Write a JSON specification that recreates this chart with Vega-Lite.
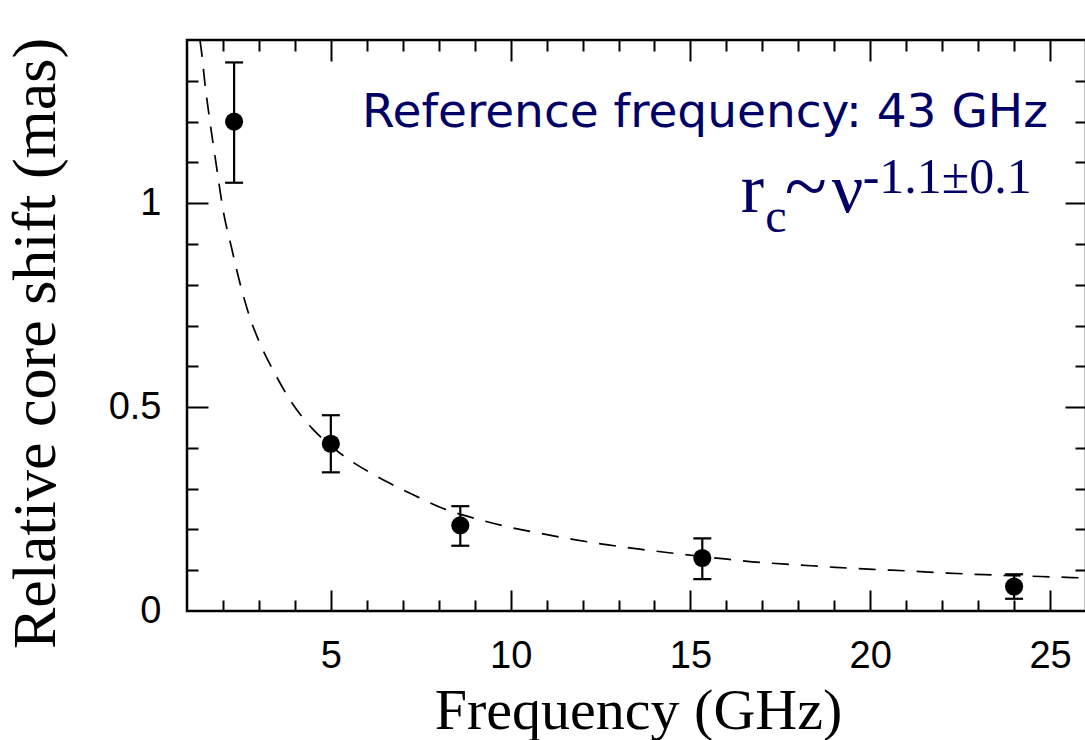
{
  "$schema": "https://vega.github.io/schema/vega-lite/v6.json",
  "width": 899,
  "height": 571,
  "autosize": "none",
  "padding": {"left": 187, "top": 40, "right": 0, "bottom": 129},
  "background": "white",
  "config": {
    "view": {"stroke": "black", "strokeWidth": 2.5},
    "axis": {"grid": false}
  },
  "datasets": {
    "points": [
      {"nu": 2.31, "shift": 1.2, "lo": 1.05, "hi": 1.345},
      {"nu": 5.0, "shift": 0.41, "lo": 0.34, "hi": 0.48},
      {"nu": 8.6, "shift": 0.21, "lo": 0.16, "hi": 0.257},
      {"nu": 15.33, "shift": 0.13, "lo": 0.078, "hi": 0.178},
      {"nu": 24.0, "shift": 0.06, "lo": 0.03, "hi": 0.09}
    ],
    "curve": [
      {"nu": 1.36, "r": 1.4},
      {"nu": 1.42, "r": 1.36},
      {"nu": 1.49, "r": 1.3},
      {"nu": 1.63, "r": 1.205},
      {"nu": 1.82, "r": 1.09},
      {"nu": 2.0, "r": 0.985},
      {"nu": 2.24, "r": 0.89},
      {"nu": 2.47, "r": 0.805},
      {"nu": 2.74, "r": 0.722},
      {"nu": 3.07, "r": 0.648},
      {"nu": 3.44, "r": 0.583},
      {"nu": 3.86, "r": 0.518},
      {"nu": 4.5, "r": 0.446},
      {"nu": 5.0, "r": 0.405},
      {"nu": 5.52, "r": 0.37},
      {"nu": 6.08, "r": 0.34},
      {"nu": 6.64, "r": 0.313},
      {"nu": 7.38, "r": 0.281},
      {"nu": 8.02, "r": 0.255},
      {"nu": 9.13, "r": 0.224},
      {"nu": 9.79, "r": 0.209},
      {"nu": 10.84, "r": 0.19},
      {"nu": 11.77, "r": 0.175},
      {"nu": 12.71, "r": 0.162},
      {"nu": 13.64, "r": 0.151},
      {"nu": 14.58, "r": 0.141},
      {"nu": 16.03, "r": 0.127},
      {"nu": 16.96, "r": 0.119},
      {"nu": 18.0, "r": 0.113},
      {"nu": 19.04, "r": 0.107},
      {"nu": 20.08, "r": 0.102},
      {"nu": 21.11, "r": 0.098},
      {"nu": 22.15, "r": 0.093},
      {"nu": 23.19, "r": 0.089},
      {"nu": 24.23, "r": 0.086},
      {"nu": 25.27, "r": 0.083},
      {"nu": 26.0, "r": 0.081}
    ],
    "one": [{}]
  },
  "resolve": {"axis": {"x": "independent", "y": "independent"}},
  "layer": [
    {
      "data": {"name": "curve"},
      "mark": {"type": "line", "color": "black", "strokeWidth": 1.7, "strokeDash": [17, 12], "interpolate": "monotone", "clip": true},
      "encoding": {
        "x": {
          "field": "nu", "type": "quantitative",
          "scale": {"domain": [1, 26], "nice": false, "zero": false},
          "axis": {
            "orient": "bottom", "values": [5, 10, 15, 20, 25], "ticks": false, "domain": false,
            "labelFont": "Liberation Sans", "labelFontSize": 38, "labelColor": "black",
            "labelPadding": 26, "labelBaseline": "top",
            "title": "Frequency (GHz)", "titleFont": "Liberation Serif", "titleFontSize": 58, "titleFontWeight": "normal",
            "titleColor": "black", "titleX": 451, "titleY": 117, "titleBaseline": "alphabetic", "titleAlign": "center"
          }
        },
        "y": {
          "field": "r", "type": "quantitative",
          "scale": {"domain": [0, 1.4], "nice": false, "zero": false},
          "axis": {
            "orient": "left", "values": [0, 0.5, 1], "format": "~g", "ticks": false, "domain": false,
            "labelFont": "Liberation Sans", "labelFontSize": 38, "labelColor": "black",
            "labelPadding": 26,
            "title": "Relative core shift (mas)", "titleFont": "Liberation Serif", "titleFontSize": 62, "titleFontWeight": "normal",
            "titleColor": "black", "titleX": -133, "titleY": 303, "titleAngle": -90, "titleBaseline": "alphabetic", "titleAlign": "center"
          }
        }
      }
    },
    {
      "data": {"name": "points"},
      "mark": {"type": "rule", "color": "black", "strokeWidth": 2.2, "opacity": 1},
      "encoding": {
        "x": {
          "field": "nu", "type": "quantitative",
          "scale": {"domain": [1, 26], "nice": false, "zero": false},
          "axis": {
            "orient": "bottom", "values": [2,3,4,5,6,7,8,9,10,11,12,13,14,15,16,17,18,19,20,21,22,23,24,25],
            "labels": false, "domain": false, "title": null, "tickColor": "black", "tickWidth": 2,
            "tickSize": {"condition": {"test": "datum.value % 5 === 0", "value": -21}, "value": -11}
          }
        },
        "y": {
          "field": "lo", "type": "quantitative",
          "scale": {"domain": [0, 1.4], "nice": false, "zero": false},
          "axis": {
            "orient": "left", "values": [0.1,0.2,0.3,0.4,0.5,0.6,0.7,0.8,0.9,1,1.1,1.2,1.3],
            "labels": false, "domain": false, "title": null, "tickColor": "black", "tickWidth": 2,
            "tickSize": {"condition": {"test": "datum.value === 0.5 || datum.value === 1", "value": -21}, "value": -11}
          }
        },
        "y2": {"field": "hi"}
      }
    },
    {
      "data": {"name": "points"},
      "transform": [{"fold": ["lo", "hi"], "as": ["end", "yv"]}],
      "mark": {"type": "tick", "orient": "horizontal", "color": "black", "size": 18, "thickness": 2.2, "opacity": 1},
      "encoding": {
        "x": {
          "field": "nu", "type": "quantitative",
          "scale": {"domain": [1, 26], "nice": false, "zero": false},
          "axis": {
            "orient": "top", "values": [2,3,4,5,6,7,8,9,10,11,12,13,14,15,16,17,18,19,20,21,22,23,24,25],
            "labels": false, "domain": false, "title": null, "tickColor": "black", "tickWidth": 2,
            "tickSize": {"condition": {"test": "datum.value % 5 === 0", "value": -21}, "value": -11}
          }
        },
        "y": {
          "field": "yv", "type": "quantitative",
          "scale": {"domain": [0, 1.4], "nice": false, "zero": false},
          "axis": {
            "orient": "right", "values": [0.1,0.2,0.3,0.4,0.5,0.6,0.7,0.8,0.9,1,1.1,1.2,1.3],
            "labels": false, "domain": false, "title": null, "tickColor": "black", "tickWidth": 2,
            "tickSize": {"condition": {"test": "datum.value === 0.5 || datum.value === 1", "value": -21}, "value": -11}
          }
        }
      }
    },
    {
      "data": {"name": "points"},
      "mark": {"type": "point", "shape": "circle", "filled": true, "color": "black", "size": 330, "opacity": 1},
      "encoding": {
        "x": {"field": "nu", "type": "quantitative", "scale": {"domain": [1, 26], "nice": false, "zero": false}, "axis": null},
        "y": {"field": "shift", "type": "quantitative", "scale": {"domain": [0, 1.4], "nice": false, "zero": false}, "axis": null}
      }
    },
    {
      "data": {"name": "one"},
      "mark": {"type": "text", "text": "Reference frequency: 43 GHz", "font": "DejaVu Sans", "fontSize": 47, "color": "#000066", "align": "right", "baseline": "alphabetic"},
      "encoding": {
        "x": {"datum": 24.94, "type": "quantitative", "scale": {"domain": [1, 26], "nice": false, "zero": false}, "axis": null},
        "y": {"datum": 1.186, "type": "quantitative", "scale": {"domain": [0, 1.4], "nice": false, "zero": false}, "axis": null}
      }
    },
    {
      "data": {"name": "one"},
      "mark": {"type": "text", "text": "r", "font": "Liberation Serif", "fontSize": 70, "color": "#000066", "align": "left", "baseline": "alphabetic"},
      "encoding": {
        "x": {"datum": 16.4, "type": "quantitative", "scale": {"domain": [1, 26], "nice": false, "zero": false}, "axis": null},
        "y": {"datum": 0.978, "type": "quantitative", "scale": {"domain": [0, 1.4], "nice": false, "zero": false}, "axis": null}
      }
    },
    {
      "data": {"name": "one"},
      "mark": {"type": "text", "text": "c", "font": "Liberation Serif", "fontSize": 48, "color": "#000066", "align": "left", "baseline": "alphabetic"},
      "encoding": {
        "x": {"datum": 17.08, "type": "quantitative", "scale": {"domain": [1, 26], "nice": false, "zero": false}, "axis": null},
        "y": {"datum": 0.929, "type": "quantitative", "scale": {"domain": [0, 1.4], "nice": false, "zero": false}, "axis": null}
      }
    },
    {
      "data": {"name": "one"},
      "mark": {"type": "text", "text": "~", "font": "Liberation Serif", "fontSize": 78, "color": "#000066", "align": "left", "baseline": "alphabetic"},
      "encoding": {
        "x": {"datum": 17.62, "type": "quantitative", "scale": {"domain": [1, 26], "nice": false, "zero": false}, "axis": null},
        "y": {"datum": 0.978, "type": "quantitative", "scale": {"domain": [0, 1.4], "nice": false, "zero": false}, "axis": null}
      }
    },
    {
      "data": {"name": "one"},
      "mark": {"type": "text", "text": "ν", "font": "Liberation Serif", "fontSize": 70, "color": "#000066", "align": "left", "baseline": "alphabetic"},
      "encoding": {
        "x": {"datum": 18.93, "type": "quantitative", "scale": {"domain": [1, 26], "nice": false, "zero": false}, "axis": null},
        "y": {"datum": 0.978, "type": "quantitative", "scale": {"domain": [0, 1.4], "nice": false, "zero": false}, "axis": null}
      }
    },
    {
      "data": {"name": "one"},
      "mark": {"type": "text", "text": "-1.1±0.1", "font": "Liberation Serif", "fontSize": 50, "color": "#000066", "align": "left", "baseline": "alphabetic"},
      "encoding": {
        "x": {"datum": 19.79, "type": "quantitative", "scale": {"domain": [1, 26], "nice": false, "zero": false}, "axis": null},
        "y": {"datum": 1.0245, "type": "quantitative", "scale": {"domain": [0, 1.4], "nice": false, "zero": false}, "axis": null}
      }
    }
  ]
}
